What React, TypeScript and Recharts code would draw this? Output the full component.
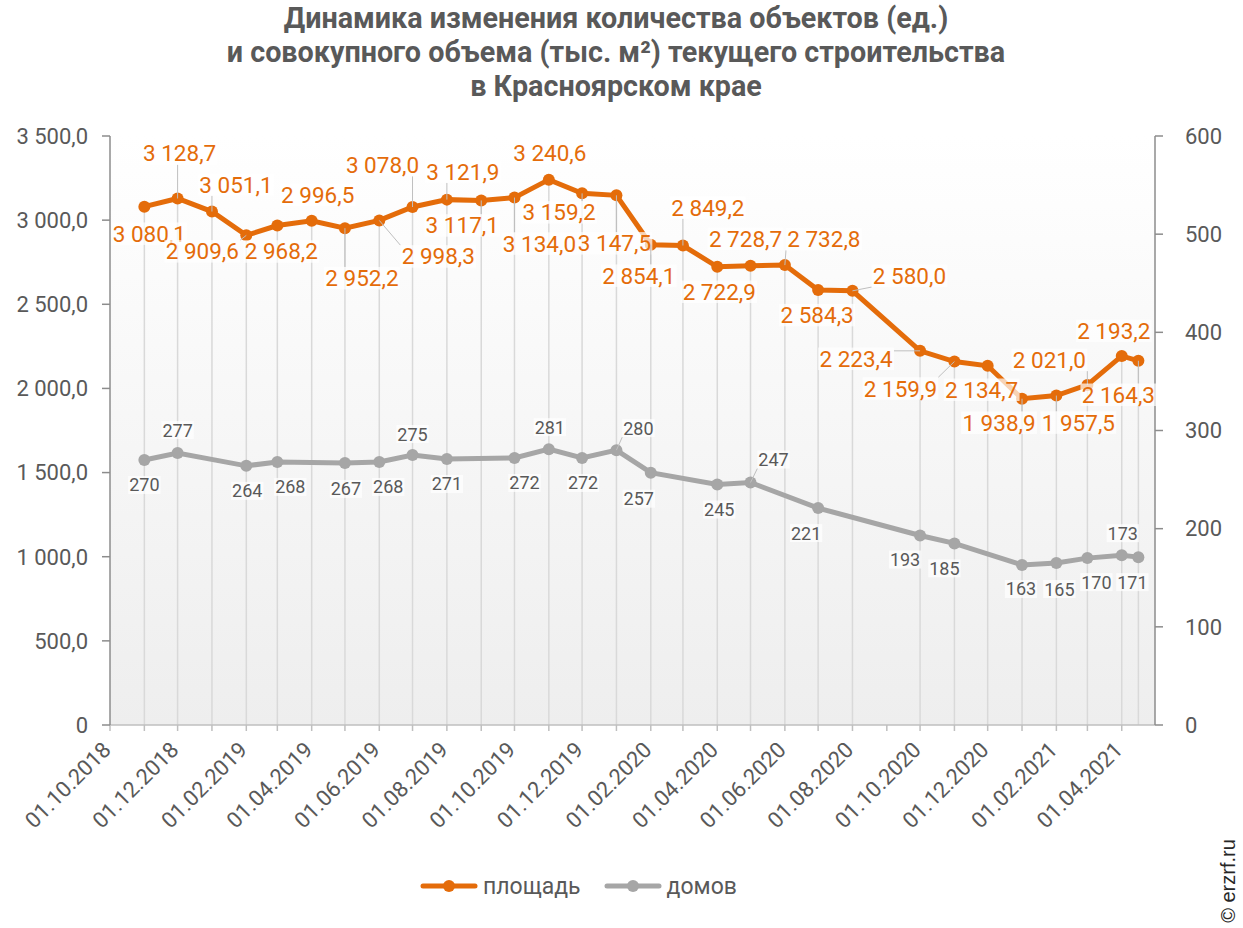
import React from 'react';
import { LineChart, Line, XAxis, YAxis, CartesianGrid, ReferenceLine, LabelList, Legend } from 'recharts';

// ---------- data ----------
const dateLabels = [
  '01.11.2018', '01.12.2018', '01.01.2019', '01.02.2019', '01.03.2019', '01.04.2019',
  '01.05.2019', '01.06.2019', '01.07.2019', '01.08.2019', '01.09.2019', '01.10.2019',
  '01.11.2019', '01.12.2019', '01.01.2020', '01.02.2020', '01.03.2020', '01.04.2020',
  '01.05.2020', '01.06.2020', '01.07.2020', '01.08.2020', '01.10.2020', '01.11.2020',
  '01.12.2020', '01.01.2021', '01.02.2021', '01.03.2021', '01.04.2021', '16.04.2021',
];
const areaValues = [
  3080.1, 3128.7, 3051.1, 2909.6, 2968.2, 2996.5, 2952.2, 2998.3, 3078.0, 3121.9,
  3117.1, 3134.0, 3240.6, 3159.2, 3147.5, 2854.1, 2849.2, 2722.9, 2728.7, 2732.8,
  2584.3, 2580.0, 2223.4, 2159.9, 2134.7, 1938.9, 1957.5, 2021.0, 2193.2, 2164.3,
];
const houseValues: (number | null)[] = [
  270, 277, null, 264, 268, null, 267, 268, 275, 271,
  null, 272, 281, 272, 280, 257, null, 245, 247, null,
  221, null, 193, 185, null, 163, 165, 170, 173, 171,
];
const xTickLabels = [
  '01.10.2018', '01.12.2018', '01.02.2019', '01.04.2019', '01.06.2019', '01.08.2019',
  '01.10.2019', '01.12.2019', '01.02.2020', '01.04.2020', '01.06.2020', '01.08.2020',
  '01.10.2020', '01.12.2020', '01.02.2021', '01.04.2021',
];
const xDomainLabels = ['01.10.2018', '01.05.2021'];
const leftTicks = [0, 500, 1000, 1500, 2000, 2500, 3000, 3500];
const rightTicks = [0, 100, 200, 300, 400, 500, 600];
const seriesNames = { area: 'площадь', houses: 'домов' };
const titleLines = [
  'Динамика изменения количества объектов (ед.)',
  'и совокупного объема (тыс. м²) текущего строительства',
  'в Красноярском крае',
];

// ---------- label placement (styling) ----------
const areaLabelOffsets: [number, number][] = [
  [5, 27], [2, -45], [24, -27], [-44, 16], [4, 26], [6, -26], [17, 50], [59, 36], [-30, -42], [16, -28],
  [-19, 25], [25, 46], [1, -27], [-23, 19], [-2, 48], [-12, 31], [25, -38], [2, 25], [-5, -27], [39, -26],
  [-1, 25], [57, -15], [-64, 8], [-54, 27], [-6, 24], [-23, 24], [22, 27], [-38, -25], [-8, -25], [-20, 34],
];
const houseLabelOffsets: ([number, number] | null)[] = [
  [0, 25], [0, -23], null, [1, 25], [13, 25], null, [1, 26], [9, 25], [0, -21], [0, 25],
  null, [10, 25], [1, -22], [1, 25], [22, -22], [-12, 26], null, [2, 25], [23, -23], null,
  [-12, 25], null, [-15, 24], [-10, 25], null, [-1, 24], [3, 26], [9, 24], [1, -22], [-6, 25],
];

const ORANGE = '#E46C0A';
const GRAY = '#A6A6A6';
const TEXT = '#595959';
const FONT = 'Roboto, "Noto Sans", sans-serif';

const parseDate = (s: string) => {
  const [d, m, y] = s.split('.').map(Number);
  return Date.UTC(y, m - 1, d) / 86400000;
};

const data = dateLabels.map((d, i) => ({ t: parseDate(d), area: areaValues[i], houses: houseValues[i] }));
const xStart = parseDate(xDomainLabels[0]);
const xEnd = parseDate(xDomainLabels[1]);

const monthTicks: number[] = [];
{
  let y = 2018;
  let m = 10;
  while (Date.UTC(y, m - 1, 1) / 86400000 < xEnd) {
    monthTicks.push(Date.UTC(y, m - 1, 1) / 86400000);
    m += 1;
    if (m > 12) { m = 1; y += 1; }
  }
}
const tickLabelMap = new Map<number, string>(xTickLabels.map((l) => [parseDate(l), l]));

const fmt1 = (v: number) => {
  const [int, dec] = v.toFixed(1).split('.');
  return int.replace(/\B(?=(\d{3})+(?!\d))/g, ' ') + ',' + dec;
};
const fmtLeft = (v: number) => (v === 0 ? '0' : fmt1(v));
const fmtInt = (v: number) => String(v);

const textWidth = (s: string, fs: number) =>
  [...s].reduce((w, c) => w + (c === ' ' ? 0.25 : c === ',' || c === '.' ? 0.22 : 0.562) * fs, 0);

const makeLabel = (
  offsets: ([number, number] | null)[],
  color: string,
  fontSize: number,
  formatter: (v: number) => string,
) => (props: any) => {
  const { index, value } = props;
  if (value == null) return null;
  const vb = props.viewBox || {};
  const px = vb.x ?? props.x;
  const py = vb.y ?? props.y;
  if (px == null || py == null) return null;
  const off = offsets[index];
  if (!off) return null;
  const [dx, dy] = off;
  const text = formatter(Number(value));
  const w = textWidth(text, fontSize) + 2;
  const h = fontSize;
  const cx = px + dx;
  const cy = py + dy;
  const bx = cx - w / 2;
  const by = cy - h / 2;
  const leader = Math.abs(dx) >= 16 || Math.abs(dy) >= 30;
  const nx = Math.max(bx, Math.min(px, bx + w));
  const ny = Math.max(by, Math.min(py, by + h));
  return (
    <g key={`lbl-${index}`}>
      {leader && <line x1={px} y1={py} x2={nx} y2={ny} stroke="#BFBFBF" strokeWidth={1} />}
      <rect x={bx} y={by} width={w} height={h} fill="#FFFFFF" fillOpacity={0.7} />
      <text
        x={cx}
        y={cy}
        textAnchor="middle"
        dominantBaseline="central"
        fill={color}
        fontSize={fontSize}
        fontFamily={FONT}
      >
        {text}
      </text>
    </g>
  );
};

const areaLabel = makeLabel(areaLabelOffsets, ORANGE, 22.5, fmt1);
const houseLabel = makeLabel(houseLabelOffsets, TEXT, 18, fmtInt);

const XTick = (props: any) => {
  const { x, y, payload } = props;
  const label = tickLabelMap.get(payload.value);
  if (!label) return null;
  const ax = x - 3;
  const ay = y + 5;
  return (
    <text
      x={ax}
      y={ay}
      transform={`rotate(-45 ${ax} ${ay})`}
      textAnchor="end"
      dominantBaseline="central"
      fill={TEXT}
      fontSize={22}
      fontFamily={FONT}
    >
      {label}
    </text>
  );
};

const legendItems = [
  { name: seriesNames.area, color: ORANGE },
  { name: seriesNames.houses, color: GRAY },
];

const renderLegend = () => (
  <div style={{ display: 'flex', alignItems: 'center', height: 40, paddingLeft: 420, fontFamily: FONT, fontSize: 23, color: TEXT }}>
    {legendItems.map((s) => (
      <div key={s.name} style={{ display: 'flex', alignItems: 'center', marginRight: 23 }}>
        <svg width={58} height={16}>
          <line x1={3} y1={8} x2={55} y2={8} stroke={s.color} strokeWidth={5} strokeLinecap="round" />
          <circle cx={29} cy={8} r={6} fill={s.color} />
        </svg>
        <span style={{ marginLeft: 5 }}>{s.name}</span>
      </div>
    ))}
  </div>
);

export default function App() {
  return (
    <div style={{ position: 'absolute', left: 0, top: 0, width: 1243, height: 928, background: '#FFFFFF' }}>
      <div
        style={{
          position: 'absolute', left: 0, top: 1, width: 1232, textAlign: 'center', fontFamily: FONT,
          fontWeight: 700, fontSize: 29, lineHeight: '34px', color: TEXT, zIndex: 2,
        }}
      >
        <div style={{ transform: 'scaleX(0.99)' }}>
          {titleLines.map((l) => (
            <div key={l}>{l}</div>
          ))}
        </div>
      </div>
      <LineChart
        width={1243}
        height={928}
        data={data}
        margin={{ top: 136, right: 0, left: 10, bottom: 43 }}
        style={{ fontFamily: FONT }}
      >
        <defs>
          <linearGradient id="plotBg" x1="0" y1="0" x2="0" y2="1">
            <stop offset="0%" stopColor="#FFFFFF" />
            <stop offset="100%" stopColor="#EEEEEE" />
          </linearGradient>
        </defs>
        <CartesianGrid horizontal={false} vertical={false} fill="url(#plotBg)" stroke="none" yAxisId="left" />
        {data.map((d) => (
          <ReferenceLine
            key={`drop-${d.t}`}
            yAxisId="left"
            segment={[{ x: d.t, y: d.area }, { x: d.t, y: 0 }]}
            stroke="#D9D9D9"
            strokeWidth={1.5}
          />
        ))}
        <XAxis
          dataKey="t"
          type="number"
          domain={[xStart, xEnd]}
          ticks={monthTicks}
          interval={0}
          height={120}
          tick={<XTick />}
          tickSize={6}
          tickMargin={10}
          axisLine={{ stroke: '#BFBFBF', strokeWidth: 1.5 }}
          tickLine={{ stroke: '#BFBFBF', strokeWidth: 1.5 }}
          allowDataOverflow
        />
        <YAxis
          yAxisId="left"
          orientation="left"
          width={100}
          domain={[0, 3500]}
          ticks={leftTicks}
          interval={0}
          tickFormatter={fmtLeft}
          tick={{ fontSize: 22, fill: TEXT, fontFamily: FONT }}
          tickSize={8}
          tickMargin={14}
          axisLine={{ stroke: '#8C8C8C', strokeWidth: 1.5 }}
          tickLine={{ stroke: '#8C8C8C', strokeWidth: 1.5 }}
        />
        <YAxis
          yAxisId="right"
          orientation="right"
          width={88}
          domain={[0, 600]}
          ticks={rightTicks}
          interval={0}
          tick={{ fontSize: 22, fill: TEXT, fontFamily: FONT }}
          tickSize={8}
          tickMargin={22}
          axisLine={{ stroke: '#8C8C8C', strokeWidth: 1.5 }}
          tickLine={{ stroke: '#8C8C8C', strokeWidth: 1.5 }}
        />
        <Line
          yAxisId="right"
          dataKey="houses"
          name={seriesNames.houses}
          stroke={GRAY}
          strokeWidth={5}
          dot={{ r: 6, fill: GRAY, stroke: GRAY, strokeWidth: 0 }}
          activeDot={false}
          connectNulls
          isAnimationActive={false}
        >
          <LabelList dataKey="houses" content={houseLabel} />
        </Line>
        <Line
          yAxisId="left"
          dataKey="area"
          name={seriesNames.area}
          stroke={ORANGE}
          strokeWidth={5}
          dot={{ r: 6, fill: ORANGE, stroke: ORANGE, strokeWidth: 0 }}
          activeDot={false}
          isAnimationActive={false}
        >
          <LabelList dataKey="area" content={areaLabel} />
        </Line>
        <Legend
          verticalAlign="bottom"
          height={40}
          content={renderLegend}
          wrapperStyle={{ position: 'absolute', top: 866, left: 0, width: 1243, height: 40 }}
        />
      </LineChart>
      <div
        style={{
          position: 'absolute', left: 1228, top: 881, transform: 'translate(-50%, -50%) rotate(-90deg)',
          whiteSpace: 'nowrap', fontFamily: '"Liberation Sans", Arial, sans-serif', fontSize: 20, color: '#262626',
        }}
      >
        © erzrf.ru
      </div>
    </div>
  );
}
